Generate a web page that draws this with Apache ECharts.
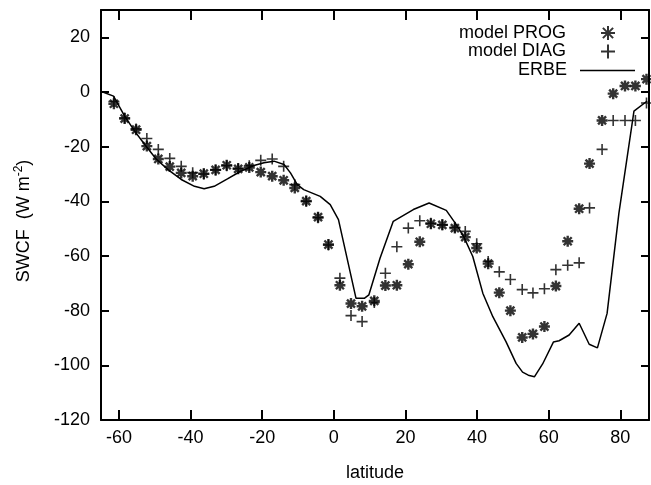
<!DOCTYPE html>
<html><head><meta charset="utf-8">
<script src="https://cdn.jsdelivr.net/npm/echarts@6/dist/echarts.min.js"></script>
<style>html,body{margin:0;padding:0;background:#fff}#c{width:651px;height:485px}</style>
</head><body><div id="c"></div>
<script>
// latitude grid of the model output
const latModel = [-61.4,-58.4,-55.2,-52.2,-49.0,-45.8,-42.6,-39.4,-36.3,-33.0,-29.9,-26.7,-23.6,-20.4,-17.2,-14.0,-10.9,-7.7,-4.4,-1.5,1.7,4.8,7.9,11.3,14.4,17.6,20.8,24.0,27.1,30.3,33.8,36.7,39.9,43.1,46.2,49.3,52.6,55.6,58.8,62.0,65.3,68.5,71.4,74.9,78.0,81.3,84.2,87.3];
const progVals = [-4.3,-9.7,-13.8,-19.8,-24.5,-27.3,-29.6,-30.8,-29.9,-28.5,-26.8,-28.1,-27.6,-29.3,-30.8,-32.3,-35.1,-39.9,-45.8,-55.8,-70.7,-77.4,-78.4,-76.4,-70.8,-70.7,-63.0,-54.8,-48.2,-48.6,-49.8,-53.1,-57.1,-62.8,-73.4,-80.0,-89.8,-88.5,-85.8,-71.0,-54.6,-42.7,-26.2,-10.4,-0.6,2.2,2.2,4.7];
const diagVals = [-3.5,-9.5,-13.5,-17.0,-21.0,-24.3,-27.2,-29.5,-30.0,-28.5,-27.0,-28.0,-27.0,-25.0,-24.5,-27.2,-33.9,-40.0,-46.0,-56.0,-68.1,-81.8,-84.0,-77.0,-66.3,-56.6,-49.8,-47.1,-48.0,-48.6,-49.5,-51.0,-55.5,-62.0,-65.8,-68.6,-72.3,-73.5,-72.0,-65.0,-63.4,-62.5,-42.4,-21.0,-10.4,-10.4,-10.4,-4.0];
// ERBE observations
const erbeLat = [-64.5,-61.5,-58.4,-55.6,-52.8,-49.6,-46.3,-42.6,-38.9,-36.2,-33.4,-29.7,-26.0,-22.3,-19.5,-16.7,-13.9,-12.1,-10.2,-8.4,-3.8,-1.0,1.3,6.2,8.5,9.8,12.9,16.6,22.2,26.6,31.4,34.2,36.3,38.8,41.6,44.4,48.1,50.9,52.7,54.3,56.0,58.3,61.3,62.9,65.7,68.5,71.3,73.6,76.3,79.6,83.8,87.5];
const erbeVals = [0,-1.5,-8.8,-14.3,-19.2,-24.5,-28.4,-32,-34.5,-35.4,-34.5,-31.8,-29,-26.9,-25.9,-25.3,-26.5,-29.6,-33.9,-35.7,-38.2,-41.2,-46.7,-75.5,-75.5,-74.2,-60.8,-47.3,-43,-40.6,-43.3,-48.5,-53,-60.2,-73.6,-82.2,-91.4,-99.3,-102.5,-103.6,-104.2,-99.5,-91.5,-91,-88.9,-84.6,-92.3,-93.6,-81,-44.3,-7,-3.3];
const xTicks = [-60,-40,-20,0,20,40,60,80];
const yTicks = [-120,-100,-80,-60,-40,-20,0,20];
const seriesNames = ['model PROG','model DIAG','ERBE'];

const zip = (a, b) => a.map((v, i) => [v, b[i]]);
const STAR = 'path://M0,-10L0,10M-10,0L10,0M-7.3,-7.3L7.3,7.3M-7.3,7.3L7.3,-7.3';
const PLUS = 'path://M0,-10L0,10M-10,0L10,0';
const FONT = 'Liberation Sans';
const FS = 18;
const blk = {color:'#000', width:2};

const axisCommon = {
  type:'value', axisLine:{show:true, onZero:false, lineStyle:blk},
  splitLine:{show:false}, axisPointer:{show:false}
};
const legendCommon = {
  orient:'vertical', align:'right', padding:0, selectedMode:false,
  itemStyle:{borderWidth:2, borderColor:'#000'}
};

const chart = echarts.init(document.getElementById('c'), null, {renderer:'canvas'});
chart.setOption({
  animation:false,
  backgroundColor:'#fff',
  grid:{left:101, right:2, top:10, bottom:65, containLabel:false, outerBoundsMode:'none'},
  xAxis:[
    Object.assign({}, axisCommon, {
      position:'bottom', min:-65, max:88,
      axisTick:{show:true, inside:true, length:10, customValues:xTicks, lineStyle:blk},
      axisLabel:{show:true, customValues:xTicks, color:'#000', fontSize:FS, fontFamily:FONT, margin:9},
      name:'latitude', nameLocation:'middle', nameGap:44,
      nameTextStyle:{fontSize:FS, color:'#000', fontFamily:FONT}
    }),
    Object.assign({}, axisCommon, {
      position:'top', min:-65, max:88,
      axisTick:{show:true, inside:true, length:10, customValues:xTicks, lineStyle:blk},
      axisLabel:{show:false}
    })
  ],
  yAxis:[
    Object.assign({}, axisCommon, {
      position:'left', min:-120, max:30,
      axisTick:{show:true, inside:true, length:8, customValues:yTicks, lineStyle:blk},
      axisLabel:{show:true, customValues:yTicks, color:'#000', fontSize:FS, fontFamily:FONT, margin:11},
      name:'{a|SWCF  (W m}{s|-2}{a|)}', nameLocation:'middle', nameGap:66,
      nameTextStyle:{color:'#000', fontFamily:FONT, fontSize:FS, padding:[0,12,0,0],
        rich:{a:{fontSize:FS, color:'#000', fontFamily:FONT},
              s:{fontSize:12, color:'#000', fontFamily:FONT, padding:[0,0,10,0]}}}
    }),
    Object.assign({}, axisCommon, {
      position:'right', min:-120, max:30,
      axisTick:{show:true, inside:true, length:8, customValues:yTicks, lineStyle:blk},
      axisLabel:{show:false}
    })
  ],
  legend:[
    Object.assign({}, legendCommon, {data:[seriesNames[0]], right:35, top:24, itemWidth:14, itemHeight:14,
      textStyle:{fontSize:FS, color:'#000', fontFamily:FONT, padding:[0,30,0,0]}}),
    Object.assign({}, legendCommon, {data:[seriesNames[1]], right:35, top:42.5, itemWidth:14, itemHeight:14,
      textStyle:{fontSize:FS, color:'#000', fontFamily:FONT, padding:[0,30,0,0]}}),
    Object.assign({}, legendCommon, {data:[{name:seriesNames[2], icon:'rect'}], right:16, top:61.5, itemWidth:55, itemHeight:1.6,
      itemStyle:{color:'#000', borderWidth:0},
      textStyle:{fontSize:FS, color:'#000', fontFamily:FONT, padding:[0,8,0,0]}})
  ],
  series:[
    {name:seriesNames[0], type:'scatter', xAxisIndex:0, yAxisIndex:0,
     data:zip(latModel, progVals), symbol:STAR, symbolSize:11,
     itemStyle:{color:'#000', borderColor:'#000', borderWidth:2.4}, emphasis:{disabled:true}, z:3},
    {name:seriesNames[1], type:'scatter', xAxisIndex:0, yAxisIndex:0,
     data:zip(latModel, diagVals), symbol:PLUS, symbolSize:11,
     itemStyle:{color:'#000', borderColor:'#000', borderWidth:1.6}, emphasis:{disabled:true}, z:3},
    {name:seriesNames[2], type:'line', xAxisIndex:0, yAxisIndex:0,
     data:zip(erbeLat, erbeVals), symbol:'none', showSymbol:false,
     lineStyle:{color:'#000', width:1.5}, itemStyle:{color:'#000'}, emphasis:{disabled:true}, z:2}
  ]
});
</script>
</body></html>
